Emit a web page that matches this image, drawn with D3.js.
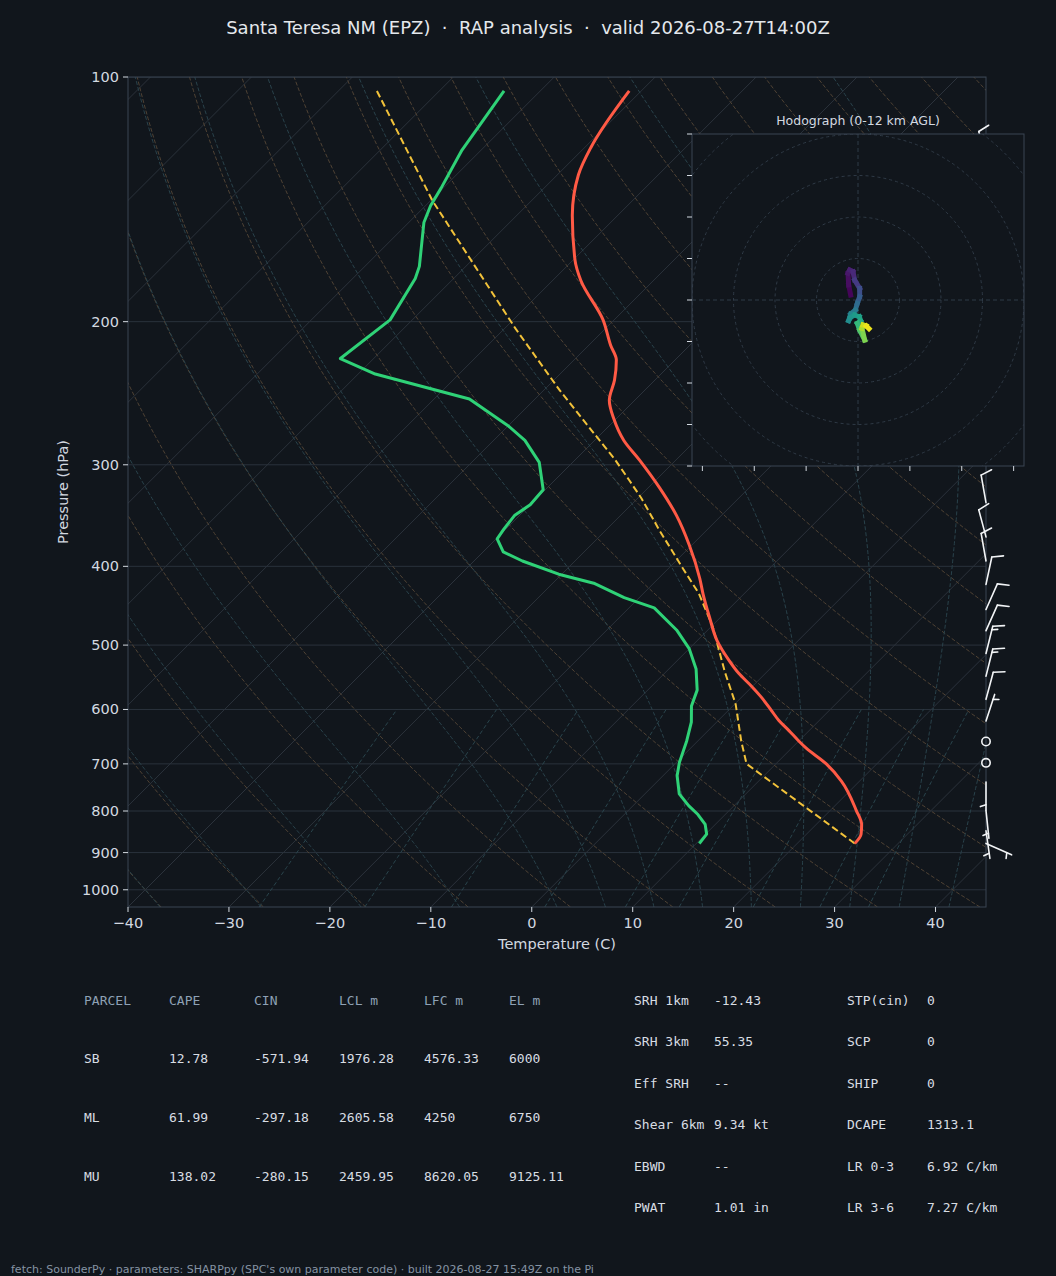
<!DOCTYPE html>
<html>
<head>
<meta charset="utf-8">
<script src="https://cdn.jsdelivr.net/npm/d3@7"></script>
<style>
  body { margin: 0; background: #11161c; }
  text { font-family: "DejaVu Sans", sans-serif; }
  .mono { font-family: "DejaVu Sans Mono", monospace; }
</style>
</head>
<body>
<svg id="chart"></svg>
<script>
// ---- sounding ----
const tempP = [877, 854, 831, 799, 735, 700, 669, 656, 637, 619, 601, 579, 561, 542, 522, 494, 462, 433, 414, 377, 346, 320, 296, 280, 263, 250, 236, 223, 214, 199, 178, 168, 148, 132, 122, 104];
const tempC = [25.7, 25.4, 24.5, 22.6, 18.2, 15.0, 11.4, 10.0, 8.0, 6.0, 4.2, 1.9, -0.2, -2.6, -4.9, -8.0, -11.1, -14.0, -15.9, -20.2, -24.5, -28.9, -33.6, -37.1, -40.3, -42.5, -44.0, -45.8, -47.8, -51.1, -57.2, -59.8, -64.5, -67.9, -69.4, -71.2];

const dewP = [877, 854, 831, 808, 788, 762, 724, 697, 656, 622, 594, 568, 535, 505, 479, 450, 437, 420, 409, 394, 384, 370, 360, 346, 336, 322, 298, 280, 269, 249, 232, 222, 199, 177, 171, 151, 144, 137, 123, 104];
const dewC = [10.3, 10.1, 9.0, 7.3, 5.5, 3.4, 1.4, 0.3, -1.1, -2.5, -4.1, -5.1, -7.3, -10.0, -13.1, -17.5, -21.5, -25.8, -30.3, -35.2, -38.0, -39.9, -40.2, -40.5, -40.0, -40.2, -43.3, -46.9, -49.9, -56.5, -68.3, -73.3, -72.2, -73.8, -74.6, -78.5, -79.5, -80.2, -81.9, -83.6];

const parcelP = [877, 700, 656, 591, 539, 475, 432, 405, 361, 330, 313, 295, 280, 243, 204, 142, 104];
const parcelC = [25.7, 7.1, 4.3, 0.1, -4.2, -9.8, -14.5, -18.2, -24.7, -29.6, -32.7, -36.2, -39.5, -48.4, -58.9, -79.8, -96.2];

// wind barbs: pressure (hPa), direction from (deg), speed (kt)
const windP = [126, 160, 200, 250, 300, 334, 368, 394, 421, 452, 480, 512, 546, 583, 620, 657, 698, 737, 799, 846, 877];
const windDir = [345, 350, 350, 350, 350, 350, 345, 350, 12, 24, 24, 14, 14, 15, 18, 0, 0, 180, 174, 172, 114];
const windSpd = [10, 10, 10, 10, 10, 10, 10, 10, 10, 10, 10, 15, 15, 10, 5, 0, 0, 5, 5, 5, 5];

// hodograph: u, v (kt) and height (km AGL)
const hodoU = [-1.77, -2.25, -2.41, -2.01, -1.20, -0.80, 0.40, 0.40, -0.16, -0.64, -1.77, -2.25, -1.77, -0.80, 0.32, 0.64, -0.16, 0.40, 1.61, 0.96, 1.20, 2.01, 2.65];
const hodoV = [1.20, 3.61, 6.43, 7.23, 6.83, 4.82, 2.81, 0.80, -0.80, -2.41, -3.37, -4.98, -4.18, -3.61, -4.02, -4.98, -5.62, -7.23, -9.64, -6.83, -6.02, -6.27, -6.91];
const hodoZ = [0, 0.3, 0.6, 0.9, 1.2, 1.6, 2.5, 3.2, 3.8, 4.6, 5.2, 5.7, 6.0, 6.3, 6.6, 7.0, 7.6, 8.4, 9.2, 10.2, 10.8, 11.4, 12.0];

// background line families (MetPy defaults)
const dryT0 = [-40, -30, -20, -10, 0, 10, 20, 30, 40, 50, 60, 70, 80, 90, 100, 110, 120, 130, 140, 150, 160, 170, 180, 190, 200];
const moistT0 = [-50, -40, -30, -20, -10, 0, 5, 10, 15, 20, 25, 30, 35, 40, 45];
const mixRatios = [0.0004, 0.001, 0.002, 0.004, 0.007, 0.01, 0.016, 0.024, 0.032];
const isotherms = d3.range(-130, 50, 10);

// axes ticks
const pressureTicks = [100, 200, 300, 400, 500, 600, 700, 800, 900, 1000];
const tempTicks = [-40, -30, -20, -10, 0, 10, 20, 30, 40];
const hodoRings = [10, 20, 30, 40, 50];
const hodoYTicks = [-40, -30, -20, -10, 0, 10, 20, 30, 40];
const hodoXTicks = [-37.5, -25, -12.5, 0, 12.5, 25, 37.5];

// tables
const parcelHeader = ["PARCEL", "CAPE", "CIN", "LCL m", "LFC m", "EL m"];
const parcelRows = [
  ["SB", "12.78", "-571.94", "1976.28", "4576.33", "6000"],
  ["ML", "61.99", "-297.18", "2605.58", "4250", "6750"],
  ["MU", "138.02", "-280.15", "2459.95", "8620.05", "9125.11"]
];
const indexLeft = [["SRH 1km", "-12.43"], ["SRH 3km", "55.35"], ["Eff SRH", "--"], ["Shear 6km", "9.34 kt"], ["EBWD", "--"], ["PWAT", "1.01 in"]];
const indexRight = [["STP(cin)", "0"], ["SCP", "0"], ["SHIP", "0"], ["DCAPE", "1313.1"], ["LR 0-3", "6.92 C/km"], ["LR 3-6", "7.27 C/km"]];

const title = "Santa Teresa NM (EPZ)  \u00b7  RAP analysis  \u00b7  valid 2026-08-27T14:00Z";
const footer = "fetch: SounderPy \u00b7 parameters: SHARPpy (SPC's own parameter code) \u00b7 built 2026-08-27 15:49Z on the Pi";

// ---- setup ----
const width = 1056, height = 1276;
const bg = "#11161c", frame = "#3a4452", txt = "#d3d9e0";
const svg = d3.select("#chart").attr("width", width).attr("height", height);
svg.append("rect").attr("width", width).attr("height", height).attr("fill", bg);

const plot = { left: 128, right: 986, top: 77, bottom: 907 };
const x = d3.scaleLinear().domain([-40, 45]).range([plot.left, plot.right]);
const y = d3.scaleLog().domain([1050, 100]).range([plot.bottom, plot.top]);
// 45 degree skew in pixel space
const sx = (t, p) => x(t) + (y(1050) - y(p));

svg.append("defs").append("clipPath").attr("id", "plotclip")
  .append("rect")
  .attr("x", plot.left).attr("y", plot.top)
  .attr("width", plot.right - plot.left).attr("height", plot.bottom - plot.top);

// thermo helpers
const Rd = 287.04749, Cpd = 1004.6662, Lv = 2.50084e6, eps = 0.6219569;
const satVap = (tc) => 6.112 * Math.exp(17.67 * tc / (tc + 243.5));
function dTdp(p, T) {
  const es = satVap(T - 273.15);
  const rs = eps * es / (p - es);
  return (Rd * T + Lv * rs) / (Cpd + (Lv * Lv * rs * eps) / (Rd * T * T)) / p;
}
function moistPath(t0) {
  function run(pEnd, dp) {
    const out = [];
    let p = 1000, T = t0 + 273.15;
    while ((dp < 0 && p > pEnd) || (dp > 0 && p < pEnd)) {
      const k1 = dTdp(p, T);
      const k2 = dTdp(p + dp / 2, T + k1 * dp / 2);
      const k3 = dTdp(p + dp / 2, T + k2 * dp / 2);
      const k4 = dTdp(p + dp, T + k3 * dp);
      T += dp / 6 * (k1 + 2 * k2 + 2 * k3 + k4);
      p += dp;
      out.push([p, T - 273.15]);
    }
    return out;
  }
  return run(1050, 5).reverse().concat([[1000, t0]], run(100, -5));
}
const dewFromMix = (w, p) => {
  const l = Math.log(p * w / (eps + w) / 6.112);
  return 243.5 * l / (17.67 - l);
};

const pGrid = d3.range(0, 61).map(i => 1050 * Math.pow(100 / 1050, i / 60));
const skewLine = d3.line().x(d => sx(d[1], d[0])).y(d => y(d[0]));

const back = svg.append("g").attr("clip-path", "url(#plotclip)");

// horizontal pressure gridlines
back.selectAll(".pgrid").data(pressureTicks).enter().append("line")
  .attr("x1", plot.left).attr("x2", plot.right)
  .attr("y1", d => y(d)).attr("y2", d => y(d))
  .attr("stroke", "#2a323c").attr("stroke-width", 1);

// isotherms
back.selectAll(".iso").data(isotherms).enter().append("line")
  .attr("x1", d => sx(d, 1050)).attr("y1", y(1050))
  .attr("x2", d => sx(d, 100)).attr("y2", y(100))
  .attr("stroke", "#2b323b").attr("stroke-width", 1);

// dry adiabats
back.selectAll(".dry").data(dryT0).enter().append("path")
  .attr("d", t0 => skewLine(pGrid.map(p => [p, (t0 + 273.15) * Math.pow(p / 1000, Rd / Cpd) - 273.15])))
  .attr("fill", "none").attr("stroke", "#4f4234").attr("stroke-width", 1)
  .attr("stroke-dasharray", "4,2");

// moist adiabats
back.selectAll(".moist").data(moistT0).enter().append("path")
  .attr("d", t0 => skewLine(moistPath(t0)))
  .attr("fill", "none").attr("stroke", "#29424b").attr("stroke-width", 1)
  .attr("stroke-dasharray", "4,2");

// mixing ratio lines
const pMix = d3.range(0, 21).map(i => 1050 * Math.pow(600 / 1050, i / 20));
back.selectAll(".mix").data(mixRatios).enter().append("path")
  .attr("d", w => skewLine(pMix.map(p => [p, dewFromMix(w, p)])))
  .attr("fill", "none").attr("stroke", "#29444c").attr("stroke-width", 1)
  .attr("stroke-dasharray", "4,2.5");

// profiles
const prof = svg.append("g").attr("clip-path", "url(#plotclip)");
const smooth = d3.line().x(d => sx(d[1], d[0])).y(d => y(d[0])).curve(d3.curveMonotoneY);
const straight = d3.line().x(d => sx(d[1], d[0])).y(d => y(d[0]));
prof.append("path")
  .attr("d", straight(parcelP.map((p, i) => [p, parcelC[i]])))
  .attr("fill", "none").attr("stroke", "#f2c23a").attr("stroke-width", 2)
  .attr("stroke-dasharray", "7,3.5");
prof.append("path")
  .attr("d", straight(dewP.map((p, i) => [p, dewC[i]])))
  .attr("fill", "none").attr("stroke", "#2fd277").attr("stroke-width", 3)
  .attr("stroke-linejoin", "round");
prof.append("path")
  .attr("d", smooth(tempP.map((p, i) => [p, tempC[i]])))
  .attr("fill", "none").attr("stroke", "#ff5a45").attr("stroke-width", 3)
  .attr("stroke-linejoin", "round");

// frame and axes
svg.append("rect")
  .attr("x", plot.left).attr("y", plot.top)
  .attr("width", plot.right - plot.left).attr("height", plot.bottom - plot.top)
  .attr("fill", "none").attr("stroke", frame).attr("stroke-width", 1);

const yAxis = svg.append("g");
yAxis.selectAll("line").data(pressureTicks).enter().append("line")
  .attr("x1", plot.left - 5).attr("x2", plot.left)
  .attr("y1", d => y(d)).attr("y2", d => y(d))
  .attr("stroke", txt).attr("stroke-width", 1);
yAxis.selectAll("text").data(pressureTicks).enter().append("text")
  .attr("x", plot.left - 9).attr("y", d => y(d))
  .attr("text-anchor", "end").attr("dominant-baseline", "central")
  .attr("font-size", 14.5).attr("fill", txt)
  .text(d => d);

const xAxis = svg.append("g");
xAxis.selectAll("line").data(tempTicks).enter().append("line")
  .attr("x1", d => x(d)).attr("x2", d => x(d))
  .attr("y1", plot.bottom).attr("y2", plot.bottom + 5)
  .attr("stroke", txt).attr("stroke-width", 1);
xAxis.selectAll("text").data(tempTicks).enter().append("text")
  .attr("x", d => x(d)).attr("y", plot.bottom + 16)
  .attr("text-anchor", "middle").attr("dominant-baseline", "central")
  .attr("font-size", 14.5).attr("fill", txt)
  .text(d => (d < 0 ? "\u2212" + Math.abs(d) : d));

svg.append("text")
  .attr("x", (plot.left + plot.right) / 2).attr("y", 944)
  .attr("text-anchor", "middle").attr("dominant-baseline", "central")
  .attr("font-size", 14.5).attr("fill", txt)
  .text("Temperature (C)");
svg.append("text")
  .attr("transform", `translate(63,${(plot.top + plot.bottom) / 2}) rotate(-90)`)
  .attr("text-anchor", "middle").attr("dominant-baseline", "central")
  .attr("font-size", 14.5).attr("fill", txt)
  .text("Pressure (hPa)");

// wind barbs
const barbs = svg.append("g").attr("stroke", "#f2f4f6").attr("stroke-width", 1.6)
  .attr("fill", "none").attr("stroke-linecap", "round");
const L = 28;
windP.forEach((p, i) => {
  const bx = plot.right, by = y(p);
  const spd = Math.round(windSpd[i] / 5) * 5;
  if (spd < 5) {
    barbs.append("circle").attr("cx", bx).attr("cy", by).attr("r", 0.15 * L);
    return;
  }
  const th = windDir[i] * Math.PI / 180;
  const dx = Math.sin(th), dy = -Math.cos(th);
  const px = Math.cos(th), py = Math.sin(th);
  const tx = bx + dx * L, ty = by + dy * L;
  barbs.append("line").attr("x1", bx).attr("y1", by).attr("x2", tx).attr("y2", ty);
  let full = Math.floor(spd / 10), half = (spd % 10) >= 5 ? 1 : 0;
  let off = 0;
  const sp = 0.125 * L, hgt = 0.4 * L, wid = 0.25 * L;
  for (let k = 0; k < full; k++) {
    const sxp = tx - dx * off, syp = ty - dy * off;
    barbs.append("line").attr("x1", sxp).attr("y1", syp)
      .attr("x2", sxp + px * hgt + dx * wid / 2).attr("y2", syp + py * hgt + dy * wid / 2);
    off += sp;
  }
  if (half) {
    if (off === 0) off = 1.5 * sp;
    const sxp = tx - dx * off, syp = ty - dy * off;
    barbs.append("line").attr("x1", sxp).attr("y1", syp)
      .attr("x2", sxp + px * hgt / 2 + dx * wid / 4).attr("y2", syp + py * hgt / 2 + dy * wid / 4);
  }
});

// ---- hodograph inset ----
const hodo = { left: 692, right: 1024, top: 134, bottom: 466 };
const hx = d3.scaleLinear().domain([-40, 40]).range([hodo.left, hodo.right]);
const hy = d3.scaleLinear().domain([-40, 40]).range([hodo.bottom, hodo.top]);
svg.select("defs").append("clipPath").attr("id", "hodoclip")
  .append("rect").attr("x", hodo.left).attr("y", hodo.top)
  .attr("width", hodo.right - hodo.left).attr("height", hodo.bottom - hodo.top);

const hg = svg.append("g");
hg.append("rect").attr("x", hodo.left).attr("y", hodo.top)
  .attr("width", hodo.right - hodo.left).attr("height", hodo.bottom - hodo.top)
  .attr("fill", bg);
const hin = hg.append("g").attr("clip-path", "url(#hodoclip)");
hin.selectAll("circle").data(hodoRings).enter().append("circle")
  .attr("cx", hx(0)).attr("cy", hy(0)).attr("r", d => hx(d) - hx(0))
  .attr("fill", "none").attr("stroke", "#2f3a46").attr("stroke-width", 1)
  .attr("stroke-dasharray", "3,3");
hin.append("line").attr("x1", hodo.left).attr("x2", hodo.right)
  .attr("y1", hy(0)).attr("y2", hy(0))
  .attr("stroke", "#2f3a46").attr("stroke-dasharray", "4,3");
hin.append("line").attr("y1", hodo.top).attr("y2", hodo.bottom)
  .attr("x1", hx(0)).attr("x2", hx(0))
  .attr("stroke", "#2f3a46").attr("stroke-dasharray", "4,3");

const segs = d3.range(hodoU.length - 1).map(i => ({
  a: [hodoU[i], hodoV[i]], b: [hodoU[i + 1], hodoV[i + 1]],
  z: (hodoZ[i] + hodoZ[i + 1]) / 2
}));
hin.selectAll(".seg").data(segs).enter().append("line")
  .attr("x1", d => hx(d.a[0])).attr("y1", d => hy(d.a[1]))
  .attr("x2", d => hx(d.b[0])).attr("y2", d => hy(d.b[1]))
  .attr("stroke", d => d3.interpolateViridis(d.z / 12))
  .attr("stroke-width", 5).attr("stroke-linecap", "square");

hg.append("rect").attr("x", hodo.left).attr("y", hodo.top)
  .attr("width", hodo.right - hodo.left).attr("height", hodo.bottom - hodo.top)
  .attr("fill", "none").attr("stroke", frame).attr("stroke-width", 1);
hg.selectAll(".hyt").data(hodoYTicks).enter().append("line")
  .attr("x1", hodo.left - 5).attr("x2", hodo.left)
  .attr("y1", d => hy(d)).attr("y2", d => hy(d))
  .attr("stroke", txt);
hg.selectAll(".hxt").data(hodoXTicks).enter().append("line")
  .attr("x1", d => hx(d)).attr("x2", d => hx(d))
  .attr("y1", hodo.bottom).attr("y2", hodo.bottom + 5)
  .attr("stroke", txt);
hg.append("text")
  .attr("x", hx(0)).attr("y", 120)
  .attr("text-anchor", "middle").attr("dominant-baseline", "central")
  .attr("font-size", 12.5).attr("fill", txt)
  .text("Hodograph (0-12 km AGL)");

// title
svg.append("text")
  .attr("x", width / 2).attr("y", 27)
  .attr("text-anchor", "middle").attr("dominant-baseline", "central")
  .attr("font-size", 18).attr("fill", "#e4e8ec")
  .style("white-space", "pre")
  .text(title);

// ---- parameter tables ----
const tbl = svg.append("g").attr("font-size", 13);
const colX = [84, 169, 254, 339, 424, 509];
const rowY = [1000, 1058.5, 1117.5, 1176.5];
tbl.selectAll(".hdr").data(parcelHeader).enter().append("text")
  .attr("class", "mono").attr("x", (d, i) => colX[i]).attr("y", rowY[0])
  .attr("dominant-baseline", "central").attr("fill", "#8ea1b5")
  .style("white-space", "pre").text(d => d);
parcelRows.forEach((row, r) => {
  tbl.selectAll(".r" + r).data(row).enter().append("text")
    .attr("class", "mono").attr("x", (d, i) => colX[i]).attr("y", rowY[r + 1])
    .attr("dominant-baseline", "central").attr("fill", "#d8dde3")
    .text(d => d);
});
const idxY = [1000, 1041.5, 1083, 1124.5, 1166, 1207.5];
[[indexLeft, 634, 714], [indexRight, 847, 927]].forEach(([rows, lx, vx]) => {
  rows.forEach((r, i) => {
    tbl.append("text").attr("class", "mono").attr("x", lx).attr("y", idxY[i])
      .attr("dominant-baseline", "central").attr("fill", "#d8dde3").text(r[0]);
    tbl.append("text").attr("class", "mono").attr("x", vx).attr("y", idxY[i])
      .attr("dominant-baseline", "central").attr("fill", "#d8dde3").text(r[1]);
  });
});

// footer
svg.append("text")
  .attr("x", 11).attr("y", 1269)
  .attr("dominant-baseline", "central")
  .attr("font-size", 11).attr("fill", "#8593a3")
  .text(footer);
</script>
</body>
</html>
